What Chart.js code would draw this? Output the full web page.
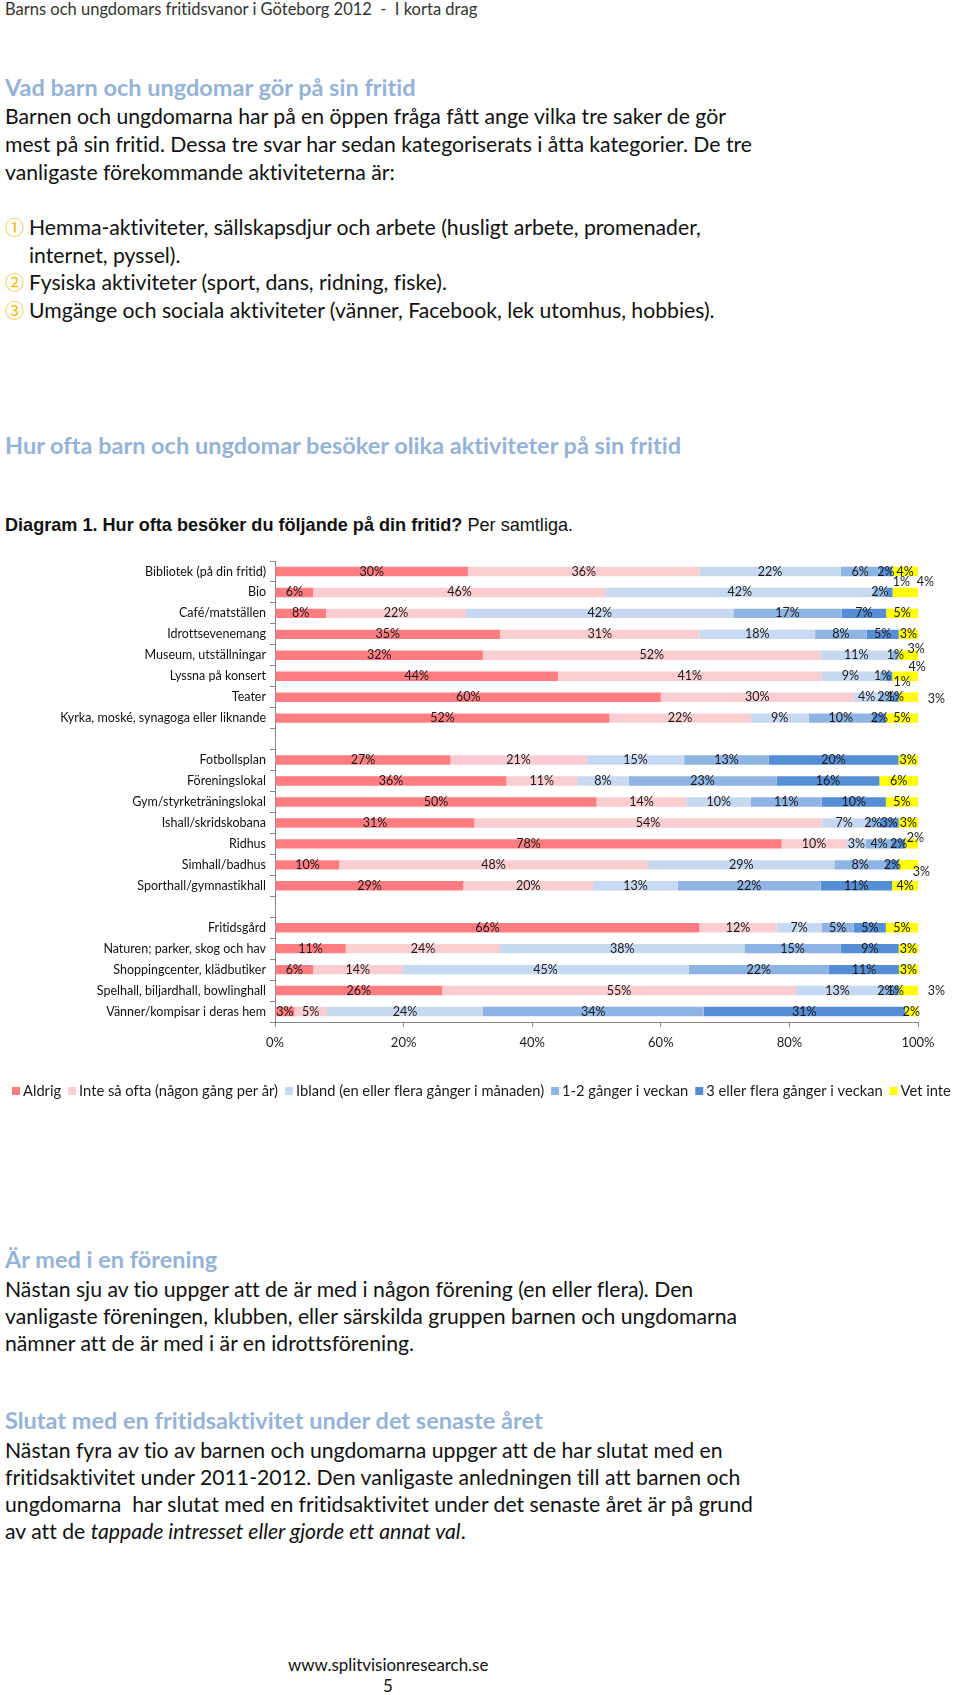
<!DOCTYPE html>
<html lang="sv">
<head>
<meta charset="utf-8">
<title>Barns och ungdomars fritidsvanor i Göteborg 2012</title>
<script src="https://cdn.jsdelivr.net/npm/chart.js@4.4.1/dist/chart.umd.min.js"></script>
<style>
  body { margin: 0; background: #fff; width: 960px; height: 1695px; position: relative; overflow: hidden; font-family: Lato, sans-serif; color: #111;
         font-variant-ligatures: none; font-feature-settings: "liga" 0, "clig" 0; }
  .t { position: absolute; left: 5px; white-space: nowrap; line-height: 28px; font-size: 21.2px; }
  .hdr { font-size: 16.5px; color: #333; }
  .h { font-weight: bold; color: #95B3D7; font-size: 23.5px; }
  .cap { font-family: "Liberation Sans", Arial, sans-serif; font-size: 18.1px; }
  .num { display: inline-block; width: 24px; font-family: "Noto Sans CJK JP", "DejaVu Sans"; color: #EDB800; font-size: 19px; }
  .foot { font-size: 16.9px; }
  #chartBox { position: absolute; left: 0; top: 540px; width: 960px; height: 580px; }
</style>
</head>
<body>

<div class="t hdr" style="top:-5px">Barns och ungdomars fritidsvanor i Göteborg 2012 &nbsp;- &nbsp;I korta drag</div>

<div class="t h" style="top:73px">Vad barn och ungdomar gör på sin fritid</div>
<div class="t" style="top:102px">Barnen och ungdomarna har på en öppen fråga fått ange vilka tre saker de gör</div>
<div class="t" style="top:130px">mest på sin fritid. Dessa tre svar har sedan kategoriserats i åtta kategorier. De tre</div>
<div class="t" style="top:158px">vanligaste förekommande aktiviteterna är:</div>

<div class="t" style="top:213px"><span class="num">①</span>Hemma-aktiviteter, sällskapsdjur och arbete (husligt arbete, promenader,</div>
<div class="t" style="top:241px; left:29px">internet, pyssel).</div>
<div class="t" style="top:268px"><span class="num">②</span>Fysiska aktiviteter (sport, dans, ridning, fiske).</div>
<div class="t" style="top:295.5px"><span class="num">③</span>Umgänge och sociala aktiviteter (vänner, Facebook, lek utomhus, hobbies).</div>

<div class="t h" style="top:431px">Hur ofta barn och ungdomar besöker olika aktiviteter på sin fritid</div>

<div class="t cap" style="top:511px"><b>Diagram 1. Hur ofta besöker du följande på din fritid?</b> Per samtliga.</div>

<div id="chartBox"><canvas id="graph"></canvas></div>

<div class="t h" style="top:1244.5px">Är med i en förening</div>
<div class="t" style="top:1274.5px">Nästan sju av tio uppger att de är med i någon förening (en eller flera). Den</div>
<div class="t" style="top:1301.5px">vanligaste föreningen, klubben, eller särskilda gruppen barnen och ungdomarna</div>
<div class="t" style="top:1328.5px">nämner att de är med i är en idrottsförening.</div>

<div class="t h" style="top:1406px">Slutat med en fritidsaktivitet under det senaste året</div>
<div class="t" style="top:1435.5px">Nästan fyra av tio av barnen och ungdomarna uppger att de har slutat med en</div>
<div class="t" style="top:1462.5px">fritidsaktivitet under 2011-2012. Den vanligaste anledningen till att barnen och</div>
<div class="t" style="top:1489.5px">ungdomarna &nbsp;har slutat med en fritidsaktivitet under det senaste året är på grund</div>
<div class="t" style="top:1517px">av att de <i>tappade intresset eller gjorde ett annat val</i>.</div>

<div class="t foot" style="top:1651px; left:288px">www.splitvisionresearch.se</div>
<div class="t foot" style="top:1672px; left:383px">5</div>

<script>
// rows of the diagram, '' = empty row between the three groups
const categories = ['Bibliotek (på din fritid)', 'Bio', 'Café/matställen', 'Idrottsevenemang',
    'Museum, utställningar', 'Lyssna på konsert', 'Teater', 'Kyrka, moské, synagoga eller liknande', '',
    'Fotbollsplan', 'Föreningslokal', 'Gym/styrketräningslokal', 'Ishall/skridskobana', 'Ridhus',
    'Simhall/badhus', 'Sporthall/gymnastikhall', '',
    'Fritidsgård', 'Naturen; parker, skog och hav', 'Shoppingcenter, klädbutiker',
    'Spelhall, biljardhall, bowlinghall', 'Vänner/kompisar i deras hem'];

const seriesNames = ['Aldrig', 'Inte så ofta (någon gång per år)', 'Ibland (en eller flera gånger i månaden)',
    '1-2 gånger i veckan', '3 eller flera gånger i veckan', 'Vet inte'];

// percent per answer, same order as categories
const aldrig       = [30, 6, 8, 35, 32, 44, 60, 52, null, 27, 36, 50, 31, 78, 10, 29, null, 66, 11, 6, 26, 3];
const inteSaOfta   = [36, 46, 22, 31, 52, 41, 30, 22, null, 21, 11, 14, 54, 10, 48, 20, null, 12, 24, 14, 55, 5];
const ibland       = [22, 42, 42, 18, 11, 9, 4, 9, null, 15, 8, 10, 7, 3, 29, 13, null, 7, 38, 45, 13, 24];
const enTvaGanger  = [6, 2, 17, 8, 1, 1, 2, 10, null, 13, 23, 11, 2, 4, 8, 22, null, 5, 15, 22, 2, 34];
const treEllerFler = [2, 1, 7, 5, 0, 1, 1, 2, null, 20, 16, 10, 3, 2, 2, 11, null, 5, 9, 11, 1, 31];
const vetInte      = [4, 4, 5, 3, 3, 4, 3, 5, null, 3, 6, 5, 3, 2, 3, 4, null, 5, 3, 3, 3, 2];

const xTicks = [0, 20, 40, 60, 80, 100];

const colors = ['#FF7C80', '#FACDD0', '#C6D9F1', '#8EB4E3', '#558ED5', '#FFFF00'];

// labels that Excel pushed off the bar: 'row,series' -> [dx, dy]
const labelNudge = {
    '1,4': [12, -10], '1,5': [20, -10],
    '4,5': [8, -6],
    '5,4': [13, 6], '5,5': [12, -9],
    '6,5': [28, 2],
    '13,5': [4, -6],
    '14,5': [13, 7],
    '20,5': [28, 0]
};

const barLabels = {
    id: 'barLabels',
    beforeDraw(chart) {
        chart.ctx.textRendering = 'optimizeSpeed'; // no Lato ligatures
    },
    afterDatasetsDraw(chart) {
        var ctx = chart.ctx;
        ctx.save();
        ctx.font = '12.5px Lato';
        ctx.fillStyle = '#1a1a1a';
        ctx.textAlign = 'center';
        ctx.textBaseline = 'middle';
        chart.data.datasets.forEach((ds, k) => {
            chart.getDatasetMeta(k).data.forEach((bar, i) => {
                var v = ds.values[i];
                if (!v) return;
                var nudge = labelNudge[i + ',' + k] || [0, 0];
                ctx.fillText(v + '%', (bar.x + bar.base) / 2 + nudge[0], bar.y + nudge[1]);
            });
        });
        ctx.restore();
    }
};

// one row legend, runs off the right edge like the original
const rowLegend = {
    id: 'rowLegend',
    afterDraw(chart) {
        var ctx = chart.ctx;
        var y = chart.chartArea.bottom + 69;
        var x = 12;
        ctx.save();
        ctx.font = '14.7px Lato';
        ctx.textBaseline = 'middle';
        chart.data.datasets.forEach(ds => {
            ctx.fillStyle = ds.backgroundColor;
            ctx.fillRect(x, y - 4, 8, 8);
            x += 11;
            ctx.fillStyle = '#1a1a1a';
            ctx.fillText(ds.label, x, y);
            x += ctx.measureText(ds.label).width + 7;
        });
        ctx.restore();
    }
};

window.addEventListener('load', () => {

    Chart.defaults.font.family = 'Lato, sans-serif';

    var rawSeries = [aldrig, inteSaOfta, ibland, enTvaGanger, treEllerFler, vetInte];
    // 100% stacked: each row is scaled to its own total, like Excel does
    var rowSums = categories.map((c, i) => rawSeries.reduce((s, arr) => s + (arr[i] || 0), 0));

    var datasets = rawSeries.map((arr, k) => ({
        label: seriesNames[k],
        data: arr.map((v, i) => v == null ? null : v / rowSums[i] * 100),
        values: arr,
        backgroundColor: colors[k],
        borderWidth: 0,
        categoryPercentage: 1,
        barPercentage: 0.45
    }));

    new Chart("graph", {
        type: "bar",
        data: { labels: categories, datasets: datasets },
        plugins: [barLabels, rowLegend],
        options: {
            indexAxis: 'y',
            responsive: true,
            maintainAspectRatio: false,
            animation: false,
            layout: { padding: { top: 21, right: 42, bottom: 58, left: 0 } },
            plugins: { legend: { display: false }, tooltip: { enabled: false } },
            scales: {
                x: {
                    stacked: true, min: 0, max: 100,
                    afterBuildTicks: s => { s.ticks = xTicks.map(v => ({ value: v })) },
                    afterFit: s => { s.height = 40 },
                    ticks: { callback: v => v + '%', color: '#1a1a1a', font: { size: 13 }, padding: 8 },
                    grid: { drawOnChartArea: false, tickLength: 5, color: '#868686' },
                    border: { color: '#868686' }
                },
                y: {
                    stacked: true,
                    afterFit: s => { s.width = 275 },
                    ticks: { autoSkip: false, color: '#111', font: { size: 12.5 }, padding: 4 },
                    grid: { drawOnChartArea: false, tickLength: 5, color: '#868686' },
                    border: { color: '#868686' }
                }
            }
        }
    });

})
</script>
</body>
</html>
